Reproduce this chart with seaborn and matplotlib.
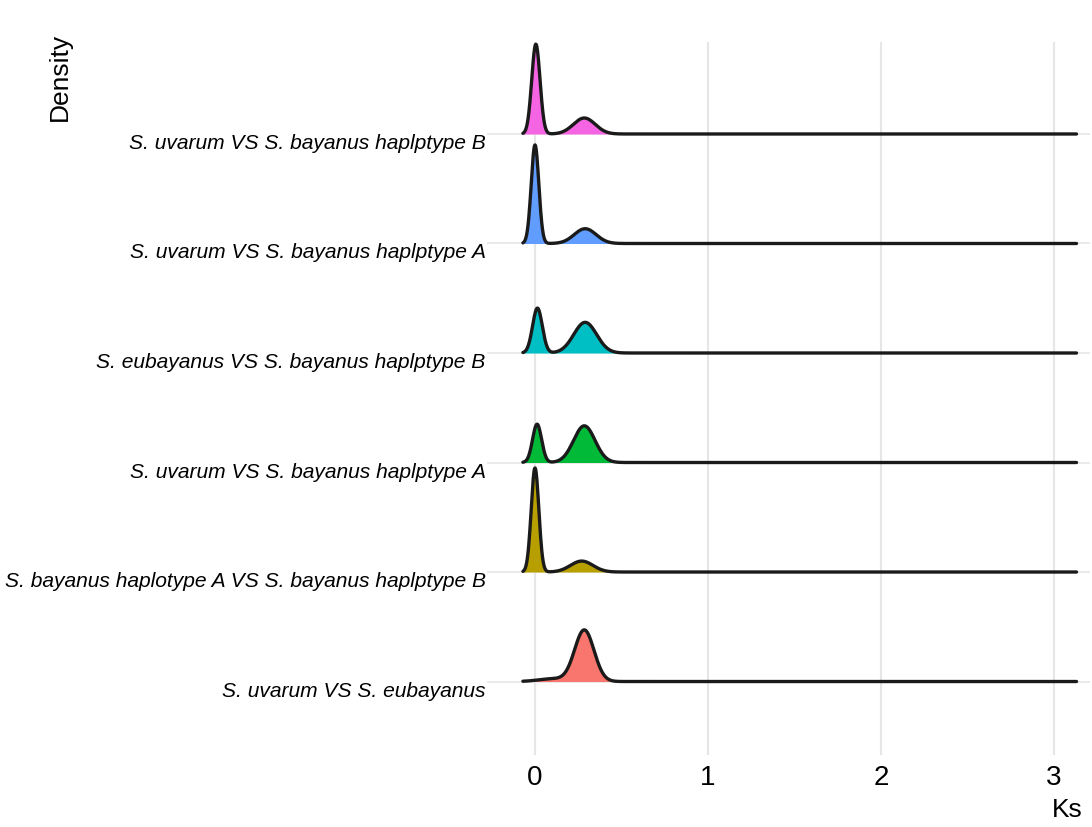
import numpy as np
import pandas as pd
import matplotlib
matplotlib.use("Agg")
import matplotlib.pyplot as plt
import seaborn as sns

# ---- data ----
# rows from bottom to top
labels = [
    "S. uvarum VS S. eubayanus",
    "S. bayanus haplotype A VS S. bayanus haplptype B",
    "S. uvarum VS S. bayanus haplptype A",
    "S. eubayanus VS S. bayanus haplptype B",
    "S. uvarum VS S. bayanus haplptype A",
    "S. uvarum VS S. bayanus haplptype B",
]
colors = ["#F8766D", "#B79F00", "#00BA38", "#00BFC4", "#619CFF", "#F564E3"]
# density peaks per ridge: Ks location, spread, height (in ridge-spacing units)
peak_ks = [[0.285, 0.10], [0.0, 0.27], [0.012, 0.285], [0.014, 0.29], [0.0, 0.29], [0.005, 0.285]]
peak_sd = [[0.056, 0.08], [0.022, 0.065], [0.026, 0.062], [0.028, 0.066], [0.022, 0.063], [0.024, 0.063]]
peak_h = [[0.47, 0.025], [0.95, 0.10], [0.35, 0.335], [0.41, 0.28], [0.90, 0.135], [0.82, 0.146]]
ks_min, ks_max = -0.07, 3.13
x_ticks = [0, 1, 2, 3]

sns.set_theme(style="white")
plt.rcParams['font.family'] = ['Liberation Sans', 'DejaVu Sans']

fig = plt.figure(figsize=(10.92, 8.27), dpi=100)
ax = fig.add_axes([487 / 1092, (827 - 755) / 827, (1090 - 487) / 1092, (755 - 42) / 827])
ax.set_xlim(-0.2775, 3.208)
ax.set_ylim(-0.671, 5.84)

grid_c = "#e6e6e6"
for t in x_ticks:
    ax.axvline(t, color=grid_c, lw=1.5, zorder=0)
for i in range(len(labels)):
    ax.axhline(i, color=grid_c, lw=1.2, zorder=0)

xs = np.linspace(ks_min, ks_max, 1500)
rows = []
for i in range(len(labels)):
    dens = np.zeros_like(xs)
    for m, s, h in zip(peak_ks[i], peak_sd[i], peak_h[i]):
        dens += h * np.exp(-0.5 * ((xs - m) / s) ** 2)
    rows.append(pd.DataFrame({"Ks": xs, "y": i + dens, "row": i}))

# draw top rows first so lower ridges sit in front
for i in reversed(range(len(labels))):
    d = rows[i]
    ax.fill_between(d["Ks"], i, d["y"], color=colors[i], lw=0, zorder=2 + (len(labels) - i) * 2)
    sns.lineplot(data=d, x="Ks", y="y", color="#1a1a1a", lw=2.4, ax=ax,
                 zorder=3 + (len(labels) - i) * 2, sort=False)

for s in ax.spines.values():
    s.set_visible(False)
ax.set_xticks(x_ticks)
ax.set_xticklabels([str(t) for t in x_ticks], fontsize=20, color="black")
ax.set_yticks(range(len(labels)))
ax.set_yticklabels(labels, fontsize=15.1, style="italic", color="black")
ax.tick_params(axis="both", length=0)
ax.tick_params(axis="x", pad=7)
ax.tick_params(axis="y", pad=1)
for lab in ax.get_yticklabels():
    lab.set_verticalalignment("top")
ax.set_xlabel("")
ax.set_ylabel("")

fig.text(1083 / 1092, 1 - 810 / 827, "Ks", fontsize=19, ha="right", va="center", color="black")
fig.text(60 / 1092, 1 - 33 / 827, "Density", fontsize=19, ha="center", va="top",
         rotation=90, color="black")

fig.savefig("out.png", dpi=100, facecolor="white")
